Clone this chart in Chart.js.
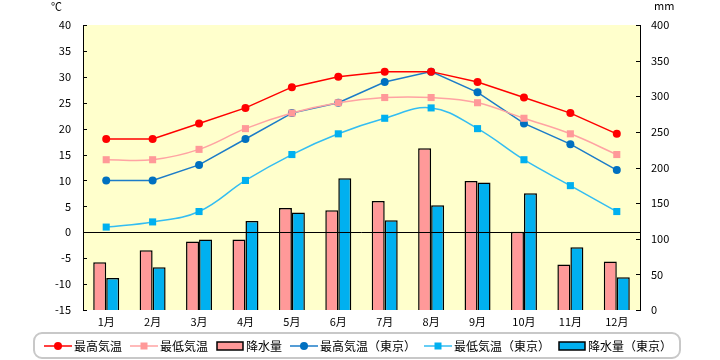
<!DOCTYPE html>
<html>
<head>
<meta charset="utf-8">
<script src="https://cdn.jsdelivr.net/npm/chart.js@4/dist/chart.umd.min.js"></script>
<style>
  html, body { margin: 0; padding: 0; background: #fff; }
  canvas { display: block; }
</style>
</head>
<body>
<canvas id="c" width="720" height="360"></canvas>
<script>
const months = ['1月', '2月', '3月', '4月', '5月', '6月', '7月', '8月', '9月', '10月', '11月', '12月'];
const maxTemp = [18, 18, 21, 24, 28, 30, 31, 31, 29, 26, 23, 19];
const minTemp = [14, 14, 16, 20, 23, 25, 26, 26, 25, 22, 19, 15];
const rain = [67, 84, 96, 99, 143, 140, 153, 227, 181, 110, 64, 68];
const tokyoMax = [10, 10, 13, 18, 23, 25, 29, 31, 27, 21, 17, 12];
const tokyoMin = [1, 2, 4, 10, 15, 19, 22, 24, 20, 14, 9, 4];
const tokyoRain = [45, 60, 99, 125, 137, 185, 126, 147, 179, 164, 88, 46];

const FONT = '"Noto Sans CJK JP", "Noto Sans", sans-serif';

// small canvases used as legend symbols
function lineIcon(color, markerColor, shape) {
  const cv = document.createElement('canvas');
  cv.width = 28; cv.height = 10;
  const g = cv.getContext('2d');
  g.strokeStyle = color;
  g.lineWidth = 1.5;
  g.beginPath(); g.moveTo(0, 5); g.lineTo(28, 5); g.stroke();
  g.fillStyle = markerColor;
  if (shape === 'circle') {
    g.beginPath(); g.arc(14, 5, 4, 0, Math.PI * 2); g.fill();
  } else {
    g.fillRect(10.5, 1.5, 7, 7);
  }
  return cv;
}
function barIcon(color) {
  const cv = document.createElement('canvas');
  cv.width = 28; cv.height = 10;
  const g = cv.getContext('2d');
  g.fillStyle = color;
  g.fillRect(1, 1, 26, 8);
  g.strokeStyle = '#000';
  g.lineWidth = 1.5;
  g.strokeRect(1, 1, 26, 8);
  return cv;
}
const legendIcons = [
  lineIcon('#FF0000', '#FF0000', 'circle'),
  lineIcon('#FFA3A3', '#FF9999', 'rect'),
  barIcon('#FF9999'),
  lineIcon('#1C7CC8', '#0070C0', 'circle'),
  lineIcon('#33BDF2', '#00B0F0', 'rect'),
  barIcon('#00B0F0')
];

const decor = {
  id: 'decor',
  afterInit(chart) {
    const lg = chart.legend;
    const fit = lg.fit;
    lg.fit = function () { fit.call(this); this.height = 32; };
  },
  beforeDraw(chart) {
    const { ctx, chartArea: a } = chart;
    ctx.save();
    ctx.fillStyle = '#FFFFCC';
    ctx.fillRect(a.left, a.top, a.right - a.left, a.bottom - a.top);
    ctx.restore();
  },
  afterDatasetDraw(chart, args) {
    if (args.index !== 2) return;
    const { ctx, chartArea: a } = chart;
    const y0 = Math.round(chart.scales.y.getPixelForValue(0)) + 0.5;
    ctx.save();
    ctx.strokeStyle = '#000';
    ctx.lineWidth = 1;
    ctx.beginPath(); ctx.moveTo(a.left, y0); ctx.lineTo(a.right, y0); ctx.stroke();
    ctx.restore();
  },
  afterDraw(chart) {
    const { ctx, chartArea: a } = chart;
    ctx.save();
    // inside tick marks
    ctx.strokeStyle = '#000';
    ctx.lineWidth = 1;
    chart.scales.y.ticks.forEach(t => {
      const py = Math.round(chart.scales.y.getPixelForValue(t.value)) + 0.5;
      ctx.beginPath(); ctx.moveTo(a.left, py); ctx.lineTo(a.left + 4, py); ctx.stroke();
    });
    chart.scales.y2.ticks.forEach(t => {
      const py = Math.round(chart.scales.y2.getPixelForValue(t.value)) + 0.5;
      ctx.beginPath(); ctx.moveTo(a.right - 4, py); ctx.lineTo(a.right, py); ctx.stroke();
    });
    // units
    ctx.fillStyle = '#000';
    ctx.font = '11px ' + FONT;
    ctx.textBaseline = 'middle';
    ctx.textAlign = 'left';
    ctx.fillText('℃', 51, 7);
    ctx.fillText('mm', 654, 6);
    // legend frame
    const hb = chart.legend.legendHitBoxes;
    if (hb && hb.length) {
      const l = hb[0].left - 14;
      const last = hb[hb.length - 1];
      const r = last.left + last.width + 8;
      ctx.strokeStyle = '#C8C8C8';
      ctx.lineWidth = 2;
      ctx.beginPath();
      ctx.roundRect(l, 333, r - l, 25, 8);
      ctx.stroke();
    }
    ctx.restore();
  }
};

new Chart(document.getElementById('c'), {
  data: {
    labels: months,
    datasets: [
      { type: 'line', label: '最高気温', data: maxTemp, yAxisID: 'y', order: 0,
        borderColor: '#FF0000', backgroundColor: '#FF0000', borderWidth: 1.5,
        pointStyle: 'circle', pointRadius: 4, pointBorderWidth: 0, tension: 0 },
      { type: 'line', label: '最低気温', data: minTemp, yAxisID: 'y', order: 0,
        borderColor: '#FFA3A3', backgroundColor: '#FF9999', borderWidth: 1.5,
        pointStyle: 'rect', pointRadius: 5, pointBorderWidth: 0, tension: 0.4 },
      { type: 'bar', label: '降水量', data: rain, yAxisID: 'y2', order: 1,
        backgroundColor: '#FF9999', borderColor: '#000', borderWidth: 1.5,
        barPercentage: 1, categoryPercentage: 0.56 },
      { type: 'line', label: '最高気温（東京）', data: tokyoMax, yAxisID: 'y', order: 0,
        borderColor: '#1C7CC8', backgroundColor: '#0070C0', borderWidth: 1.5,
        pointStyle: 'circle', pointRadius: 4, pointBorderWidth: 0, tension: 0 },
      { type: 'line', label: '最低気温（東京）', data: tokyoMin, yAxisID: 'y', order: 0,
        borderColor: '#33BDF2', backgroundColor: '#00B0F0', borderWidth: 1.5,
        pointStyle: 'rect', pointRadius: 5, pointBorderWidth: 0, tension: 0.4 },
      { type: 'bar', label: '降水量（東京）', data: tokyoRain, yAxisID: 'y2', order: 1,
        backgroundColor: '#00B0F0', borderColor: '#000', borderWidth: 1.5,
        barPercentage: 1, categoryPercentage: 0.56 }
    ]
  },
  options: {
    responsive: false,
    animation: false,
    devicePixelRatio: 1,
    layout: { padding: { top: 25, left: 0, right: 0, bottom: 0 } },
    scales: {
      x: {
        offset: true,
        grid: { display: false, drawTicks: false },
        border: { display: false },
        ticks: { color: '#000', font: { family: FONT, size: 11 }, padding: 5, maxRotation: 0 },
        afterFit(s) {
          s.height = 18;
          // let the month labels spill below the thin axis box
          s._computeLabelArea = () => undefined;
        }
      },
      y: {
        position: 'left',
        min: -15, max: 40,
        grid: { display: false, drawTicks: false },
        border: { display: true, color: '#000', width: 1 },
        ticks: { stepSize: 5, color: '#000', font: { family: FONT, size: 11 }, padding: 12 },
        afterFit(s) { s.width = 83; }
      },
      y2: {
        position: 'right',
        min: 0, max: 400,
        grid: { display: false, drawTicks: false },
        border: { display: true, color: '#000', width: 1 },
        ticks: { stepSize: 50, color: '#000', font: { family: FONT, size: 11 }, padding: 11 },
        afterFit(s) { s.width = 80; }
      }
    },
    plugins: {
      tooltip: { enabled: false },
      legend: {
        position: 'bottom',
        labels: {
          usePointStyle: true,
          pointStyleWidth: 20,
          padding: 12,
          color: '#000',
          font: { family: FONT, size: 12 },
          sort: (a, b) => a.datasetIndex - b.datasetIndex,
          generateLabels(chart) {
            const items = Chart.defaults.plugins.legend.labels.generateLabels(chart);
            items.forEach(it => { it.pointStyle = legendIcons[it.datasetIndex]; });
            return items;
          }
        }
      }
    }
  },
  plugins: [decor]
});
</script>
</body>
</html>
